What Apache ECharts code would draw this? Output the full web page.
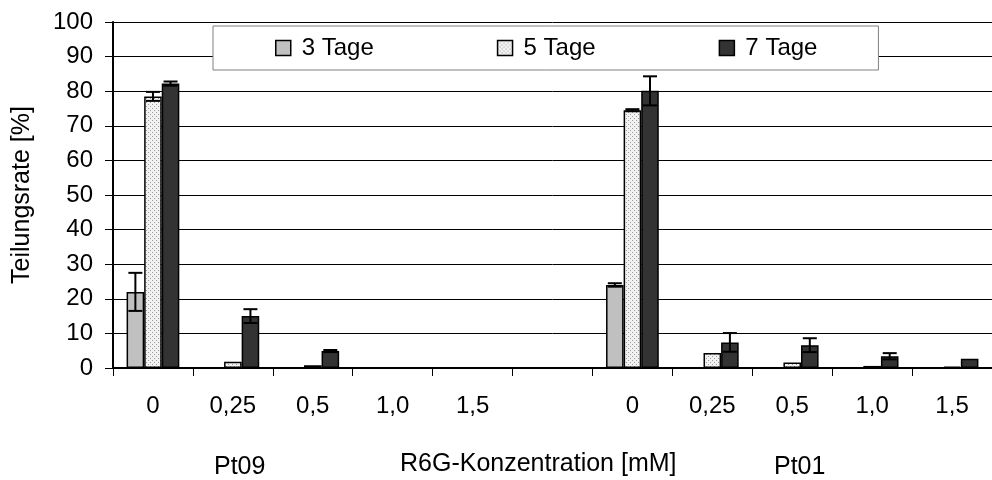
<!DOCTYPE html>
<html>
<head>
<meta charset="utf-8">
<script src="https://cdn.jsdelivr.net/npm/echarts@6/dist/echarts.min.js"></script>
<style>
  * { margin: 0; padding: 0; }
  body { background: #fff; }
</style>
</head>
<body>
<div id="main" style="width: 992px;height: 480px;"></div>
<script>
  // Konzentrationen, 6. Kategorie ist die Lücke zwischen Pt09 und Pt01
  var categories = ['0', '0,25', '0,5', '1,0', '1,5', '', '0', '0,25', '0,5', '1,0', '1,5']
  var seriesNames = ['3 Tage', '5 Tage', '7 Tage']
  var tage3 = [22, 0, 0, 0, 0, '-', 24, 0, 0, 0, 0]
  var tage5 = [78.5, 1.8, 0.8, 0, 0, '-', 74.5, 4.3, 1.6, 0.6, 0.4]
  var tage7 = [82.2, 15, 4.9, 0, 0, '-', 80.1, 7.4, 6.6, 3.4, 2.7]
  var err3 = [5.5, 0, 0, 0, 0, '-', 0.5, 0, 0, 0, 0]
  var err5 = [1.3, 0, 0, 0, 0, '-', 0.3, 0, 0, 0, 0]
  var err7 = [0.6, 2, 0.3, 0, 0, '-', 4.2, 2.7, 2, 0.9, 0]
  var yTicks = [0, 10, 20, 30, 40, 50, 60, 70, 80, 90, 100]
  var groupLabels = ['Pt09', 'Pt01']

  var font = 'Liberation Sans, Arial, sans-serif'

  // gepunktetes Muster für 5 Tage
  var dots = document.createElement('canvas')
  dots.width = 4
  dots.height = 4
  var ctx = dots.getContext('2d')
  ctx.fillStyle = '#f2f2f2'
  ctx.fillRect(0, 0, 4, 4)
  ctx.fillStyle = '#9a9a9a'
  ctx.fillRect(0, 0, 1, 1)
  ctx.fillRect(2, 2, 1, 1)

  var fills = ['#c0c0c0', { image: dots, repeat: 'repeat' }, '#333333']
  var values = [tage3, tage5, tage7]
  var errors = [err3, err5, err7]
  var barShare = 0.22

  function barSeries(k) {
    return {
      name: seriesNames[k],
      type: 'bar',
      data: values[k],
      barWidth: (barShare * 100) + '%',
      barGap: '0%',
      itemStyle: { color: fills[k], borderColor: '#000', borderWidth: 1.5 },
      z: 2
    }
  }

  function errSeries(k) {
    var d = []
    values[k].forEach(function (v, i) {
      if (v !== '-' && errors[k][i] > 0) d.push([i, v, errors[k][i]])
    })
    return {
      type: 'custom',
      name: seriesNames[k] + ' Fehler',
      data: d,
      encode: { x: 0, y: 1 },
      z: 5,
      renderItem: function (params, api) {
        var i = api.value(0), v = api.value(1), e = api.value(2)
        var band = api.size([1, 0])[0]
        var dx = (k - 1) * band * barShare
        var top = api.coord([i, v + e])
        var bot = api.coord([i, Math.max(v - e, 0)])
        var x = top[0] + dx
        var cap = 7
        var st = { stroke: '#000', lineWidth: 2 }
        return {
          type: 'group',
          children: [
            { type: 'line', shape: { x1: x, y1: top[1], x2: x, y2: bot[1] }, style: st },
            { type: 'line', shape: { x1: x - cap, y1: top[1], x2: x + cap, y2: top[1] }, style: st },
            { type: 'line', shape: { x1: x - cap, y1: bot[1], x2: x + cap, y2: bot[1] }, style: st }
          ]
        }
      }
    }
  }

  var chart = echarts.init(document.getElementById('main'))
  chart.setOption({
    animation: false,
    backgroundColor: '#fff',
    textStyle: { fontFamily: font },
    grid: { left: 113, right: 0, top: 22, bottom: 112, containLabel: false },
    legend: {
      data: seriesNames,
      left: 213,
      top: 26,
      itemWidth: 15,
      itemHeight: 15,
      itemGap: 123,
      padding: [10, 61, 10, 62],
      backgroundColor: '#fff',
      borderColor: '#808080',
      borderWidth: 1,
      icon: 'rect',
      itemStyle: { borderColor: '#000', borderWidth: 1.5 },
      textStyle: { fontSize: 24, color: '#000', fontFamily: font, padding: [0, 0, 0, 6] }
    },
    xAxis: {
      type: 'category',
      data: categories,
      axisLine: { lineStyle: { color: '#000', width: 2 } },
      axisTick: { show: true, length: 8, lineStyle: { color: '#000', width: 1 } },
      axisLabel: { fontSize: 24, color: '#000', margin: 26, fontFamily: font, interval: 0 },
      splitLine: { show: false }
    },
    yAxis: {
      type: 'value',
      min: yTicks[0],
      max: yTicks[yTicks.length - 1],
      interval: yTicks[1] - yTicks[0],
      name: 'Teilungsrate [%]',
      nameLocation: 'middle',
      nameGap: 78,
      nameTextStyle: { fontSize: 25, color: '#000', fontFamily: font },
      axisLine: { show: true, lineStyle: { color: '#000', width: 2 } },
      axisTick: { show: true, length: 8, lineStyle: { color: '#000', width: 1 } },
      axisLabel: { fontSize: 24, color: '#000', margin: 20, fontFamily: font },
      splitLine: { show: true, lineStyle: { color: '#000', width: 1 } }
    },
    graphic: [
      { type: 'text', left: 241 - 27, top: 455, style: { text: groupLabels[0], font: '25px ' + font, fill: '#000' } },
      { type: 'text', left: 400, top: 452, style: { text: 'R6G-Konzentration [mM]', font: '25px ' + font, fill: '#000' } },
      { type: 'text', left: 801 - 27, top: 455, style: { text: groupLabels[1], font: '25px ' + font, fill: '#000' } }
    ],
    series: [barSeries(0), barSeries(1), barSeries(2), errSeries(0), errSeries(1), errSeries(2)]
  })
</script>
</body>
</html>
